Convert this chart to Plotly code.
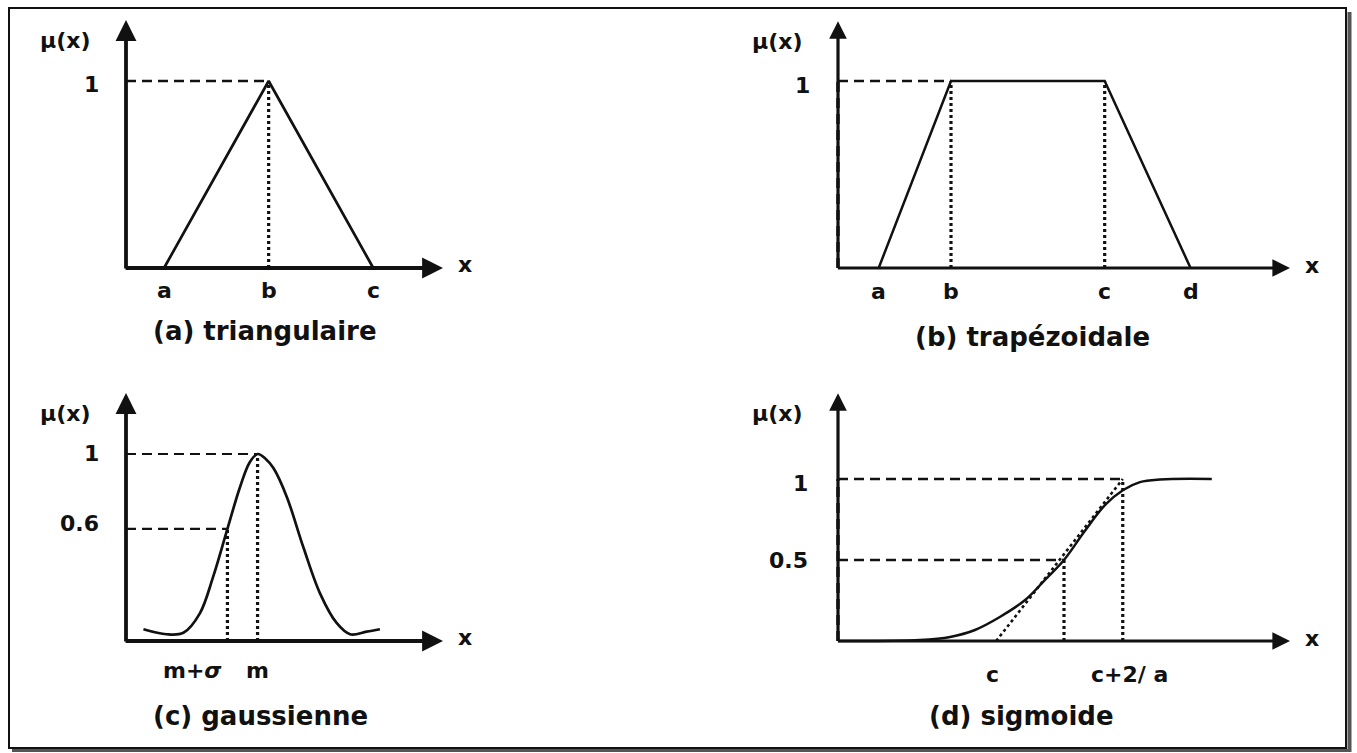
import plotly.graph_objects as go

W, H = 1357, 753
INK = "#111111"

# ---------------- data ----------------
# (a) triangular membership function
TRI_X = [1.2, 4.5, 7.8]
TRI_Y = [0, 1, 0]
TRI_TICKS = ["a", "b", "c"]

# (b) trapezoidal membership function
TRAP_X = [0.9, 2.5, 5.9, 7.8]
TRAP_Y = [0, 1, 1, 0]
TRAP_TICKS = ["a", "b", "c", "d"]

# (c) gaussian membership function
GAUSS_X = [0.55, 1.28, 1.81, 2.33, 2.75, 3.2, 3.60, 3.9, 4.15, 4.4, 4.65, 5.07, 5.59, 6.12, 6.65, 7.07, 7.59, 8.01]
GAUSS_Y = [0.063, 0.036, 0.044, 0.148, 0.344, 0.6, 0.825, 0.955, 1.0, 0.975, 0.925, 0.772, 0.504, 0.255, 0.095, 0.036, 0.050, 0.063]
GAUSS_M = 4.15
GAUSS_M_SIGMA = 3.2
GAUSS_LEVEL = 0.6
GAUSS_TICKS = ["m+<i>σ</i>", "m"]

# (d) sigmoid membership function
SIG_X = [0, 1.81, 2.48, 3.03, 3.58, 4.14, 4.58, 5.0, 5.46, 5.91, 6.31, 6.68, 7.12, 8.27]
SIG_Y = [0, 0.006, 0.025, 0.068, 0.148, 0.253, 0.377, 0.5, 0.679, 0.840, 0.932, 0.981, 0.997, 1.0]
SIG_C = 3.5
SIG_HALF_X = 5.0
SIG_HALF_Y = 0.5
SIG_C2A = 6.3
SIG_TICKS = ["c", "c+2/ a"]

TITLES = ["(a) triangulaire", "(b) trapézoidale", "(c) gaussienne", "(d) sigmoide"]

# ---------------- panel geometry ----------------
# pixel origin of each pair of axes, pixels per unit, and axis arrow lengths
PANELS = [
    dict(ox=126, oy=268, ux=31.7, uy=187.0, xend=10.0, yend=1.326, title=(265, 331)),
    dict(ox=838, oy=268, ux=45.2, uy=187.0, xend=10.0, yend=1.32, title=(1032, 337)),
    dict(ox=126, oy=641, ux=31.7, uy=187.0, xend=10.0, yend=1.326, title=(260, 716)),
    dict(ox=838, oy=641, ux=45.2, uy=162.0, xend=10.0, yend=1.53, title=(1021, 716)),
]
PAD = 12

DASH = "10px,6px"
DOT = "3px,3px"
LABEL_FONT = dict(family="DejaVu Sans", size=22, color=INK, weight="bold")
TITLE_FONT = dict(family="DejaVu Sans", size=26, color=INK, weight="bold")

fig = go.Figure()
axes = {}
for i, p in enumerate(PANELS):
    n = "" if i == 0 else str(i + 1)
    L = p["ox"] - PAD
    R = p["ox"] + p["xend"] * p["ux"] + PAD
    B = p["oy"] + PAD
    T = p["oy"] - p["yend"] * p["uy"] - PAD
    axes["xaxis" + n] = dict(domain=[L / W, R / W],
                             range=[(L - p["ox"]) / p["ux"], (R - p["ox"]) / p["ux"]],
                             visible=False, fixedrange=True, anchor="y" + n)
    axes["yaxis" + n] = dict(domain=[1 - B / H, 1 - T / H],
                             range=[(p["oy"] - B) / p["uy"], (p["oy"] - T) / p["uy"]],
                             visible=False, fixedrange=True, anchor="x" + n)


def ax_names(i):
    n = "" if i == 0 else str(i + 1)
    return "x" + n, "y" + n


def line(i, x, y, dash=None, width=2.5, shape="linear"):
    xa, ya = ax_names(i)
    fig.add_trace(go.Scatter(
        x=x, y=y, xaxis=xa, yaxis=ya, mode="lines",
        line=dict(color=INK, width=width, dash=dash, shape=shape, smoothing=1.0),
        hoverinfo="skip", showlegend=False))


annotations = []


def label(i, text, x, y, xanchor="center", xshift=0, yshift=0, font=LABEL_FONT):
    xa, ya = ax_names(i)
    annotations.append(dict(x=x, y=y, xref=xa, yref=ya, text=text, showarrow=False,
                            xanchor=xanchor, yanchor="middle",
                            xshift=xshift, yshift=yshift, font=font))


def axis_arrows(i, width):
    xa, ya = ax_names(i)
    p = PANELS[i]
    back_x = -width / 2 / p["ux"]
    back_y = -width / 2 / p["uy"]
    annotations.append(dict(x=p["xend"], y=0, ax=back_x, ay=0, xref=xa, yref=ya,
                            axref=xa, ayref=ya, text="", showarrow=True, arrowhead=2,
                            arrowsize=1.1, arrowwidth=width, arrowcolor=INK))
    annotations.append(dict(x=0, y=p["yend"], ax=0, ay=back_y, xref=xa, yref=ya,
                            axref=xa, ayref=ya, text="", showarrow=True, arrowhead=2,
                            arrowsize=1.1, arrowwidth=width, arrowcolor=INK))
    label(i, "μ(x)", 0, p["yend"], xshift=-61, yshift=-20)
    label(i, "x", p["xend"], 0, xshift=22, yshift=3)


# (a) triangular
line(0, [0, TRI_X[1]], [1, 1], DASH, 2.4)
line(0, [TRI_X[1], TRI_X[1]], [0, 1], DOT, 3.2)
line(0, TRI_X, TRI_Y, None, 2.7)
axis_arrows(0, 3.8)
label(0, "1", 0, 1, xanchor="right", xshift=-25, yshift=-4)
for xv, t in zip(TRI_X, TRI_TICKS):
    label(0, t, xv, 0, yshift=-23)

# (b) trapezoidal
line(1, [0, TRAP_X[1]], [1, 1], DASH, 2.4)
line(1, [0, 0], [0, 1], DASH, 3.4)
line(1, [TRAP_X[1], TRAP_X[1]], [0, 1], DOT, 3.2)
line(1, [TRAP_X[2], TRAP_X[2]], [0, 1], DOT, 3.2)
line(1, TRAP_X, TRAP_Y, None, 2.5)
axis_arrows(1, 3.2)
label(1, "1", 0, 1, xanchor="right", xshift=-26, yshift=-4)
for xv, t in zip(TRAP_X, TRAP_TICKS):
    label(1, t, xv, 0, yshift=-23)

# (c) gaussian
line(2, [0, GAUSS_M], [1, 1], DASH, 2.2)
line(2, [0, GAUSS_M_SIGMA], [GAUSS_LEVEL, GAUSS_LEVEL], DASH, 2.2)
line(2, [GAUSS_M, GAUSS_M], [0, 1], DOT, 3.2)
line(2, [GAUSS_M_SIGMA, GAUSS_M_SIGMA], [0, GAUSS_LEVEL], DOT, 3.2)
line(2, GAUSS_X, GAUSS_Y, None, 2.7, "spline")
axis_arrows(2, 3.8)
label(2, "1", 0, 1, xanchor="right", xshift=-25, yshift=0)
label(2, "0.6", 0, GAUSS_LEVEL, xanchor="right", xshift=-25, yshift=5)
label(2, GAUSS_TICKS[0], GAUSS_M_SIGMA, 0, xanchor="right", xshift=-3, yshift=-30)
label(2, GAUSS_TICKS[1], GAUSS_M, 0, yshift=-30)

# (d) sigmoid
line(3, [0, SIG_C2A], [1, 1], DASH, 2.4)
line(3, [0, SIG_HALF_X], [SIG_HALF_Y, SIG_HALF_Y], DASH, 2.4)
line(3, [0, 0], [0, 1], DASH, 3.4)
line(3, [SIG_HALF_X, SIG_HALF_X], [0, SIG_HALF_Y], DOT, 3.2)
line(3, [SIG_C2A, SIG_C2A], [0, 1], DOT, 3.2)
line(3, [SIG_C, SIG_C2A], [0, 1], DOT, 2.6)
line(3, SIG_X, SIG_Y, None, 2.5, "spline")
axis_arrows(3, 3.2)
label(3, "1", 0, 1, xanchor="right", xshift=-28, yshift=-4)
label(3, "0.5", 0, SIG_HALF_Y, xanchor="right", xshift=-28, yshift=0)
label(3, SIG_TICKS[0], SIG_C, 0, xshift=-4, yshift=-33)
label(3, SIG_TICKS[1], SIG_C2A, 0, xshift=7, yshift=-33)

# panel captions
for p, t in zip(PANELS, TITLES):
    tx, ty = p["title"]
    annotations.append(dict(x=tx / W, y=1 - ty / H, xref="paper", yref="paper", text=t,
                            showarrow=False, xanchor="center", yanchor="middle",
                            font=TITLE_FONT))

# outer frame with a soft drop shadow on the right and bottom
shapes = [
    dict(type="line", xref="paper", yref="paper", x0=1349.5 / W, x1=1349.5 / W,
         y0=1 - 12 / H, y1=1 - 752 / H, line=dict(color="#555555", width=4)),
    dict(type="line", xref="paper", yref="paper", x0=12 / W, x1=1351 / W,
         y0=1 - 750.5 / H, y1=1 - 750.5 / H, line=dict(color="#555555", width=3)),
    dict(type="rect", xref="paper", yref="paper", x0=9 / W, x1=1346 / W,
         y0=1 - 748 / H, y1=1 - 8 / H, line=dict(color=INK, width=2)),
]

fig.update_layout(
    width=W, height=H,
    margin=dict(l=0, r=0, t=0, b=0),
    paper_bgcolor="white", plot_bgcolor="white",
    showlegend=False,
    annotations=annotations,
    shapes=shapes,
    **axes,
)

fig.write_html("out.html", config={"displayModeBar": False})
